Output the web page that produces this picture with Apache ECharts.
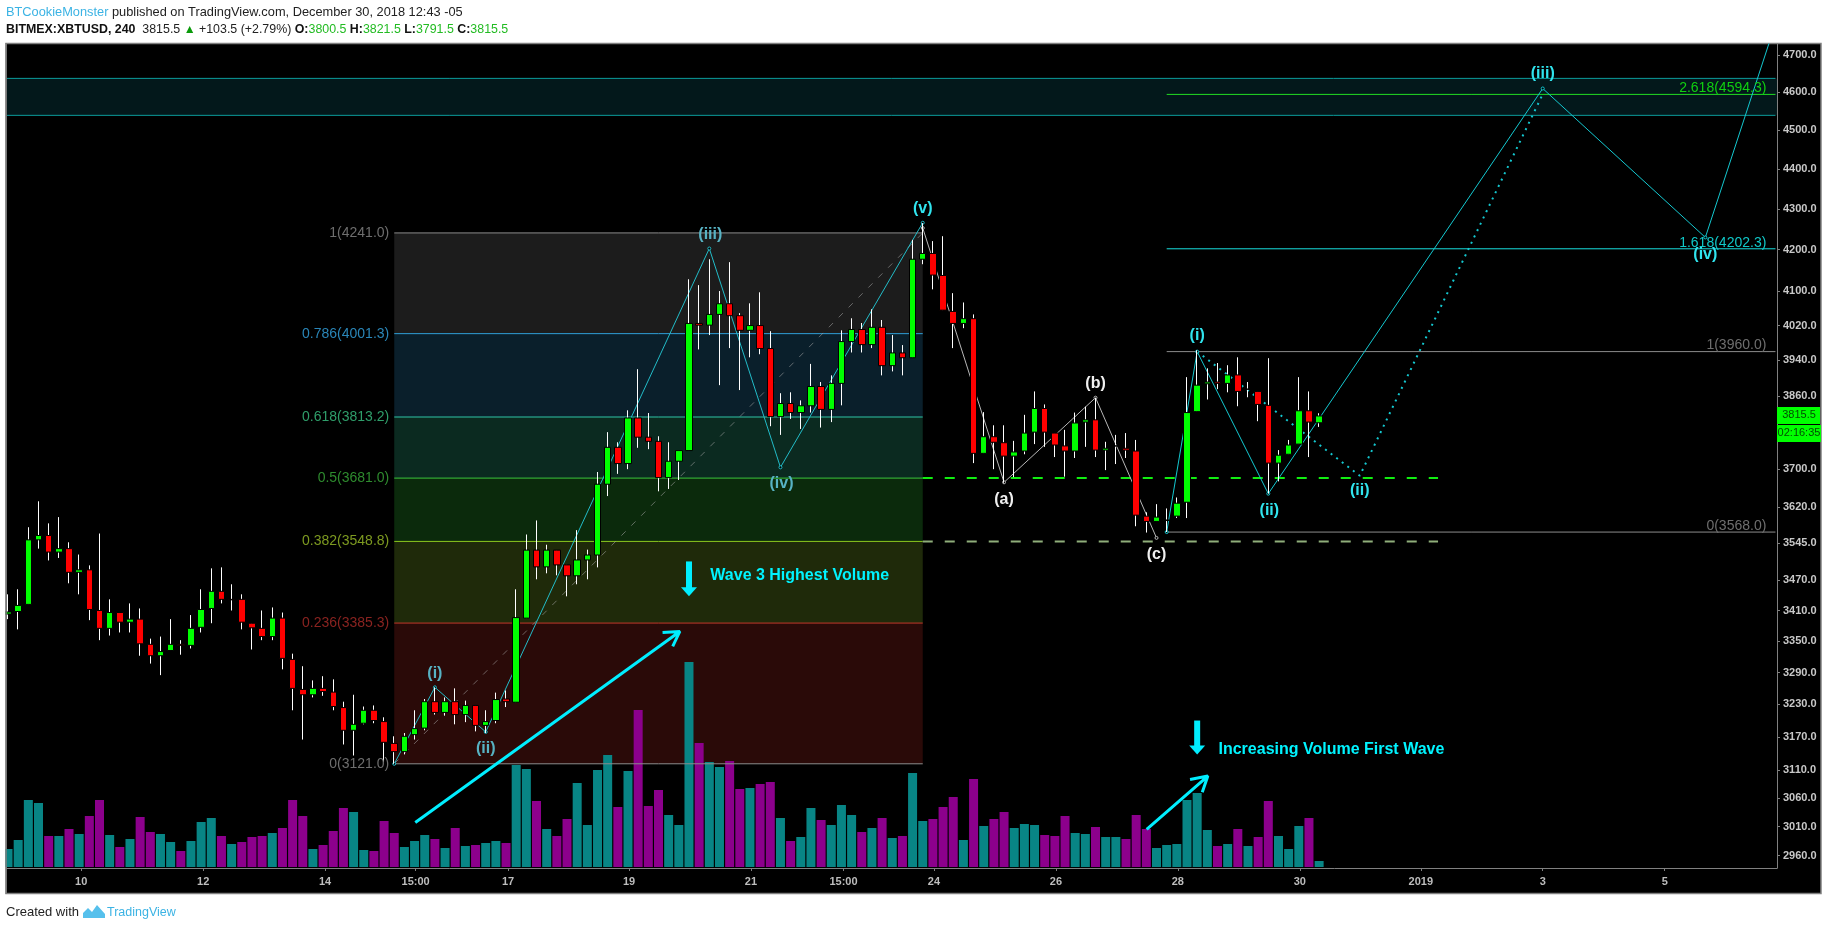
<!DOCTYPE html>
<html>
<head>
<meta charset="utf-8">
<style>html,body{margin:0;padding:0;background:#fff}#c{width:1828px;height:930px}</style>
<script src="https://cdn.jsdelivr.net/npm/echarts@6/dist/echarts.min.js"></script>
</head>
<body>
<div id="c"></div>
<script>
// open, close, low, high of each 4h candle
const ohlc = [
[3403,3407,3393,3442],[3408,3420,3373,3452],[3422,3552,3422,3578],[3552,3561,3534,3632],[3561,3527,3510,3586],
[3527,3534,3515,3599],[3534,3486,3464,3547],[3486,3491,3442,3522],[3491,3412,3391,3500],[3410,3375,3352,3565],
[3375,3406,3361,3432],[3406,3387,3367,3406],[3387,3393,3367,3424],[3393,3345,3322,3414],[3344,3322,3307,3355],
[3322,3330,3285,3359],[3332,3344,3332,3393],[3344,3342,3324,3352],[3342,3375,3336,3401],[3377,3412,3367,3452],
[3414,3448,3385,3494],[3448,3432,3424,3496],[3432,3431,3410,3462],[3432,3387,3373,3442],[3385,3376,3334,3385],
[3375,3359,3352,3410],[3359,3395,3352,3416],[3395,3317,3296,3406],[3315,3260,3219,3326],[3258,3248,3165,3302],
[3248,3260,3243,3275],[3260,3254,3246,3283],[3253,3226,3219,3277],[3224,3182,3156,3235],[3182,3193,3136,3248],
[3195,3219,3193,3226],[3219,3200,3195,3228],[3198,3160,3124,3206],[3158,3143,3121,3171],[3143,3171,3138,3177],
[3174,3185,3165,3219],[3186,3235,3182,3240],[3235,3215,3211,3262],[3215,3235,3209,3243],[3235,3211,3193,3260],
[3211,3228,3197,3237],[3228,3191,3180,3228],[3191,3198,3177,3219],[3200,3239,3195,3252],[3240,3235,3225,3256],
[3234,3396,3234,3452],[3395,3531,3395,3563],[3531,3497,3472,3592],[3497,3531,3484,3542],[3531,3501,3480,3531],
[3501,3479,3438,3501],[3479,3511,3462,3572],[3511,3521,3472,3532],[3521,3668,3496,3694],[3668,3747,3643,3780],
[3747,3712,3690,3758],[3712,3811,3700,3828],[3811,3769,3746,3920],[3769,3760,3743,3822],[3760,3682,3653,3771],
[3682,3717,3658,3758],[3717,3740,3677,3740],[3740,4025,3740,4129],[4025,4021,3965,4115],[4021,4046,3998,4177],
[4046,4071,3884,4101],[4071,4043,3968,4170],[4043,4009,3873,4049],[4009,4020,3947,4072],[4020,3967,3954,4098],
[3967,3814,3793,4007],[3814,3843,3774,3866],[3843,3823,3809,3868],[3823,3838,3787,3850],[3838,3881,3823,3932],
[3881,3830,3790,3891],[3830,3888,3802,3906],[3888,3983,3839,4009],[3983,4011,3958,4037],[4011,3976,3958,4026],
[3976,4016,3968,4058],[4016,3928,3906,4033],[3928,3957,3915,3998],[3957,3946,3906,3975],[3946,4177,3946,4224],
[4177,4191,4165,4265],[4191,4139,4105,4221],[4138,4056,4056,4233],[4053,4025,3968,4096],[4025,4036,4014,4074],
[4036,3734,3713,4046],[3734,3770,3734,3824],[3770,3758,3700,3795],[3757,3728,3671,3795],[3728,3737,3683,3761],
[3739,3778,3732,3818],[3780,3832,3754,3870],[3832,3780,3748,3841],[3778,3752,3726,3778],[3750,3739,3684,3785],
[3739,3800,3724,3823],[3802,3807,3748,3836],[3807,3741,3726,3856],[3741,3745,3698,3759],[3750,3750,3711,3774],
[3745,3741,3724,3778],[3739,3603,3580,3763],[3601,3590,3567,3609],[3590,3599,3590,3626],[3592,3593,3568,3617],
[3601,3628,3597,3640],[3630,3823,3597,3902],[3825,3884,3825,3963],[3887,3891,3852,3922],[3891,3888,3875,3934],
[3888,3907,3868,3929],[3907,3870,3837,3947],[3875,3875,3857,3891],[3870,3841,3804,3870],[3839,3713,3648,3945],
[3713,3730,3674,3741],[3732,3752,3732,3763],[3754,3827,3754,3902],[3827,3802,3726,3870],[3800.5,3815.5,3791.5,3821.5]
];
const volumes = [
18,27,67,64,31,31,38,33,51,67,32,20,28,50,35,33,25,16,26,45,49,31,23,25,30,31,34,39,67,51,18,22,36,59,55,17,16,46,34,20,
26,32,28,19,39,21,22,24,26,24,102,98,66,38,31,48,84,42,97,112,60,96,157,61,77,52,42,205,124,105,100,106,78,79,83,85,49,26,30,59,
47,42,62,52,35,39,49,29,31,94,46,48,60,70,27,88,41,48,55,39,43,42,32,31,51,34,33,40,30,30,28,52,38,19,22,23,67,74,37,21,
23,38,21,30,66,31,18,41,49,6
];
const volumeSide = "TTTTPTPTPPTPTPPTTPTTTPTPPPTPPPTPPPTTPPPTTTPTPTPTTPTTPTPPTTTTPTPPPTTTPTTPPTPPTPTTPTTTPTPTPTTPPPTPTPPTTTPPPTTPTTPPPTTTTTTPTPTPPTTTPT";

const priceTicks = [4700,4600,4500,4400,4300,4200,4100,4020,3940,3860,3700,3620,3545,3470,3410,3350,3290,3230,3170,3110,3060,3010,2960];
const timeTickPos = [7.2,19.2,31.2,40.1,49.2,61.1,73.1,82.2,91.1,103.1,115.1,127.1,139,151,163];
const timeTickLabels = ['10','12','14','15:00','17','19','21','15:00','24','26','28','30','2019','3','5'];

const fibRatios = ['0','0.236','0.382','0.5','0.618','0.786','1'];
const fibPrices = [3121,3385.3,3548.8,3681,3813.2,4001.3,4241];
const fibStartCandle = 38, fibEndCandle = 90;
const extRatios = ['0','1','1.618','2.618'];
const extPrices = [3568,3960,4202.3,4594.3];
const extStartCandle = 114, extEndCandle = 173.9;
const resistanceZone = [4539,4637];
const dashedGreenPrice = 3681, dashedPalePrice = 3548.8, dashedEndCandle = 140.7;

const waveUp = [[38,3121],[42,3262],[47,3179],[69,4203],[76,3704],[90,4266]];
const waveAbc = [[90,4253],[98,3672],[107,3856],[113,3556]];
const waveNext = [[114,3568],[117,3960],[124,3648],[151,4610],[167,4230],[173.3,4735]];
const waveAlt = [[117,3960],[133,3686],[151,4595]];
const bigArrow = [[40.07,3017],[66.1,3369],[64.4,3367],[66.1,3369],[65.4,3340]];
const smallArrow = [[112.03,3005],[118.05,3099],[116.3,3093],[118.05,3099],[117.5,3070]];
const downArrows = [[67,3508,3438],[117,3200,3138]];

const mutedLabels = [['(i)',42,3288],['(ii)',47,3149],['(iii)',69.1,4238],['(iv)',76.1,3669]];
const brightLabels = [['(v)',90,4302],['(i)',117,3996],['(ii)',124.1,3613],['(ii)',133,3655],['(iii)',151,4649],['(iv)',167,4189]];
const whiteLabels = [['(a)',98,3636],['(b)',107,3888],['(c)',113,3522]];
const notes = [['Wave 3 Highest Volume',69.1,3480],['Increasing Volume First Wave',119.1,3147]];
const lastPrice = 3815.5, countdown = '02:16:35';

const xMin = -0.1, xMax = 174.05;
const UI = '"Liberation Sans", Arial, sans-serif';
const fibFill = ['#2a0a08','#1f2a0a','#0b2a0c','#0b2a20','#0a1f2b','#1c1c1c'];
const fibLine = ['#8c8c8c','#c0392b','#8bc81e','#3cc43c','#2ec4a6','#2f9fd8','#8c8c8c'];
const fibText = ['#6e6e6e','#8a2320','#7d9a20','#2e8b2e','#2f9e6a','#2a86b8','#6e6e6e'];
const extLine = ['#8c8c8c','#8c8c8c','#17dede','#22dd22'];
const extText = ['#6e6e6e','#6e6e6e','#10c8c8','#10d010'];

function band(rows, colors, z){
  return {type:'custom',xAxisIndex:0,yAxisIndex:0,z,silent:true,animation:false,clip:true,
    data:rows,encode:{x:[0,1],y:[2,3]},
    renderItem:(p,api)=>{
      const a=api.coord([api.value(0),api.value(3)]), b=api.coord([api.value(1),api.value(2)]);
      return {type:'rect',shape:{x:a[0],y:a[1],width:b[0]-a[0],height:b[1]-a[1]},style:{fill:colors[p.dataIndex]}};
    }};
}
function poly(points,color,width,dash,marker,z){
  return {type:'line',xAxisIndex:0,yAxisIndex:0,z,silent:true,animation:false,data:points,
    symbol:marker?'circle':'none',symbolSize:3,showSymbol:!!marker,
    itemStyle:{color:'#000',borderColor:color,borderWidth:1},lineStyle:{color,width,type:dash||'solid',cap:'butt'}};
}
function level(x0,x1,price,color,width,dash,z){return poly([[x0,price],[x1,price]],color,width,dash,false,z);}
function texts(rows,colorOf,font,align,dx,dy,z){
  return {type:'custom',xAxisIndex:0,yAxisIndex:0,z,silent:true,animation:false,clip:false,
    data:rows.map(r=>[r[1],r[2]]),encode:{x:0,y:1},
    renderItem:(p,api)=>{
      const c=api.coord([api.value(0),api.value(1)]);
      return {type:'text',x:c[0]+dx,y:c[1]+dy,style:{text:rows[p.dataIndex][0],fill:colorOf(p.dataIndex),font,textAlign:align,textVerticalAlign:'middle'}};
    }};
}
const series = [];
// resistance zone and fib bands
series.push(band([[xMin,xMax,resistanceZone[0],resistanceZone[1]]],['#03181b'],1));
series.push(band(fibFill.map((_,i)=>[fibStartCandle,fibEndCandle,fibPrices[i],fibPrices[i+1]]),fibFill,1));
// volume
series.push({type:'bar',xAxisIndex:1,yAxisIndex:1,z:2,silent:true,animation:false,barWidth:9,
  data:volumes.map((v,i)=>({value:[i,v],itemStyle:{color:volumeSide[i]==='T'?'#088585':'#8c008c'}}))});
// levels
resistanceZone.forEach(p=>series.push(level(xMin,extEndCandle,p,'#0b9c9c',1,null,3)));
fibPrices.forEach((p,i)=>series.push(level(fibStartCandle,fibEndCandle,p,fibLine[i],1,null,3)));
extPrices.forEach((p,i)=>series.push(level(extStartCandle,extEndCandle,p,extLine[i],1,null,3)));
series.push(level(fibEndCandle,dashedEndCandle,dashedGreenPrice,'#11ee11',2,[10,12],3));
series.push(level(fibEndCandle,dashedEndCandle,dashedPalePrice,'#8fae7a',2,[10,12],3));
// wave paths
series.push(poly([[fibStartCandle,fibPrices[0]],[fibEndCandle,fibPrices[6]]],'rgba(170,170,170,0.55)',1,[6,8],false,3));
series.push(poly(waveUp,'#22bcc8',1,null,true,3));
series.push(poly(waveAbc,'#b8b8b8',1,null,true,3));
series.push(poly(waveNext,'#14c8d0',1,null,true,3));
series.push(poly(waveAlt,'#14c8d0',2,[2,5],false,3));
// candles: wicks, then bodies
series.push({type:'candlestick',xAxisIndex:0,yAxisIndex:0,z:4,silent:true,animation:false,barWidth:1,
  data:ohlc.map((d,i)=>[i,d[0],d[1],d[2],d[3]]),encode:{x:0,y:[1,2,3,4]},
  itemStyle:{color:'#fff',color0:'#fff',borderColor:'#fff',borderColor0:'#fff',borderWidth:1}});
series.push({type:'candlestick',xAxisIndex:0,yAxisIndex:0,z:5,silent:true,animation:false,barWidth:7,
  data:ohlc.map((d,i)=>[i,d[0],d[1],Math.min(d[0],d[1]),Math.max(d[0],d[1])]),encode:{x:0,y:[1,2,3,4]},
  itemStyle:{color:'#00ff00',color0:'#ff0000',borderColor:'#000',borderColor0:'#000',borderWidth:1}});
// arrows
series.push(poly(bigArrow,'#00eeff',3,null,false,6));
series.push(poly(smallArrow,'#00eeff',3,null,false,6));
series.push({type:'custom',xAxisIndex:0,yAxisIndex:0,z:6,silent:true,animation:false,clip:false,
  data:downArrows,encode:{x:0,y:[1,2]},
  renderItem:(p,api)=>{
    const a=api.coord([api.value(0),api.value(1)]), b=api.coord([api.value(0),api.value(2)]);
    return {type:'group',children:[
      {type:'rect',shape:{x:a[0]-3,y:a[1],width:6,height:b[1]-a[1]-8},style:{fill:'#00eeff'}},
      {type:'polygon',shape:{points:[[b[0]-8,b[1]-9],[b[0]+8,b[1]-9],[b[0],b[1]]]},style:{fill:'#00eeff'}}
    ]};
  }});
// texts
const WF='bold 16px '+UI;
series.push(texts(mutedLabels,()=>'#57b3c4',WF,'center',0,0,7));
series.push(texts(brightLabels,()=>'#30e4ee',WF,'center',0,0,7));
series.push(texts(whiteLabels,()=>'#f0f0f0',WF,'center',0,0,7));
series.push(texts(notes,()=>'#00f4ff','bold 16px '+UI,'left',0,0,7));
const FF='14px '+UI;
series.push(texts(fibRatios.map((r,i)=>[r+'('+fibPrices[i].toFixed(1)+')',fibStartCandle,fibPrices[i]]),i=>fibText[i],FF,'right',-5,0,7));
series.push(texts(extRatios.map((r,i)=>[r+'('+extPrices[i].toFixed(1)+')',173,extPrices[i]]),i=>extText[i],FF,'right',0,-6,7));
// last price tag
series.push({type:'custom',xAxisIndex:0,yAxisIndex:0,z:8,silent:true,animation:false,clip:false,
  data:[[xMax,lastPrice]],encode:{x:0,y:1},
  renderItem:(p,api)=>{
    const c=api.coord([api.value(0),api.value(1)]);
    const f='11px '+UI;
    return {type:'group',children:[
      {type:'rect',shape:{x:c[0],y:c[1]-9,width:43,height:17},style:{fill:'#00ff00'}},
      {type:'text',x:c[0]+22,y:c[1]-0.5,style:{text:lastPrice.toFixed(1),fill:'#034d03',font:f,textAlign:'center',textVerticalAlign:'middle'}},
      {type:'rect',shape:{x:c[0],y:c[1]+9,width:44,height:17},style:{fill:'#00ff00'}},
      {type:'text',x:c[0]+22,y:c[1]+17.5,style:{text:countdown,fill:'#034d03',font:f,textAlign:'center',textVerticalAlign:'middle'}}
    ]};
  }});

const option = {
  animation:false,
  backgroundColor:'#fff',
  title:[
    {left:6,top:6,padding:0,text:'{a|BTCookieMonster} published on TradingView.com, December 30, 2018 12:43 -05',
     textStyle:{fontFamily:UI,fontSize:12.8,fontWeight:'normal',color:'#222',rich:{a:{color:'#3bb3e4',fontFamily:UI,fontSize:12.8}}}},
    {left:6,top:24,padding:0,text:'{b|BITMEX:XBTUSD, 240}  3815.5 {u|\u25B2} +103.5 (+2.79%) {b|O:}{g|3800.5} {b|H:}{g|3821.5} {b|L:}{g|3791.5} {b|C:}{g|3815.5}',
     textStyle:{fontFamily:UI,fontSize:12.4,fontWeight:'normal',color:'#222',rich:{b:{fontWeight:'bold',color:'#111',fontFamily:UI,fontSize:12.4},g:{color:'#22bb22',fontFamily:UI,fontSize:12.4},u:{color:'#0a9a0a',fontSize:12}}}},
    {left:6,top:906,padding:0,text:'Created with',textStyle:{fontFamily:UI,fontSize:13,fontWeight:'normal',color:'#222'}},
    {left:107,top:906,padding:0,text:'TradingView',textStyle:{fontFamily:UI,fontSize:12.5,fontWeight:'normal',color:'#3bb3e4'}}
  ],
  graphic:{elements:[
    {type:'rect',z:-5,silent:true,shape:{x:6,y:43.5,width:1815,height:850},style:{fill:'#000',stroke:'#808080',lineWidth:1.5}},
    {type:'rect',z:50,zlevel:0,silent:true,shape:{x:0,y:43,width:5.25,height:851},style:{fill:'#fff'}},
    {type:'rect',z:50,zlevel:0,silent:true,shape:{x:5.25,y:43,width:1.5,height:851},style:{fill:'#808080'}},
    {type:'polygon',z:1,silent:true,shape:{points:[[83,918],[83,913],[88,908],[92,912],[97,905],[105,914],[105,918]]},style:{fill:'#56c0ec'}}
  ]},
  grid:[
    {left:7,width:1770,top:44,height:824},
    {left:7,width:1770,top:640,height:227}
  ],
  xAxis:[
    {type:'value',gridIndex:0,min:xMin,max:xMax,splitLine:{show:false},
     axisLine:{show:true,onZero:false,lineStyle:{color:'#808080'}},
     axisTick:{show:true,length:3,customValues:timeTickPos,lineStyle:{color:'#808080'}},
     axisLabel:{customValues:timeTickPos,margin:8,color:'#bdbdbd',fontFamily:UI,fontSize:11,fontWeight:'bold',hideOverlap:false,
       formatter:v=>timeTickLabels[timeTickPos.indexOf(v)]||''}},
    {type:'value',gridIndex:1,min:xMin,max:xMax,show:false,axisLine:{onZero:false}}
  ],
  yAxis:[
    {type:'log',logBase:10,gridIndex:0,position:'right',min:2938.7,max:4730,splitLine:{show:false},
     axisLine:{show:true,onZero:false,lineStyle:{color:'#808080'}},
     axisTick:{show:true,length:3,customValues:priceTicks,lineStyle:{color:'#808080'}},
     axisLabel:{customValues:priceTicks,margin:6,color:'#c8c8c8',fontFamily:UI,fontSize:11,fontWeight:'bold',hideOverlap:false,
       formatter:v=>Number(v).toFixed(1)}},
    {type:'value',gridIndex:1,min:0,max:227,show:false,axisLine:{onZero:false}}
  ],
  series
};
echarts.init(document.getElementById('c'),null,{renderer:'canvas'}).setOption(option);
</script>
</body>
</html>
